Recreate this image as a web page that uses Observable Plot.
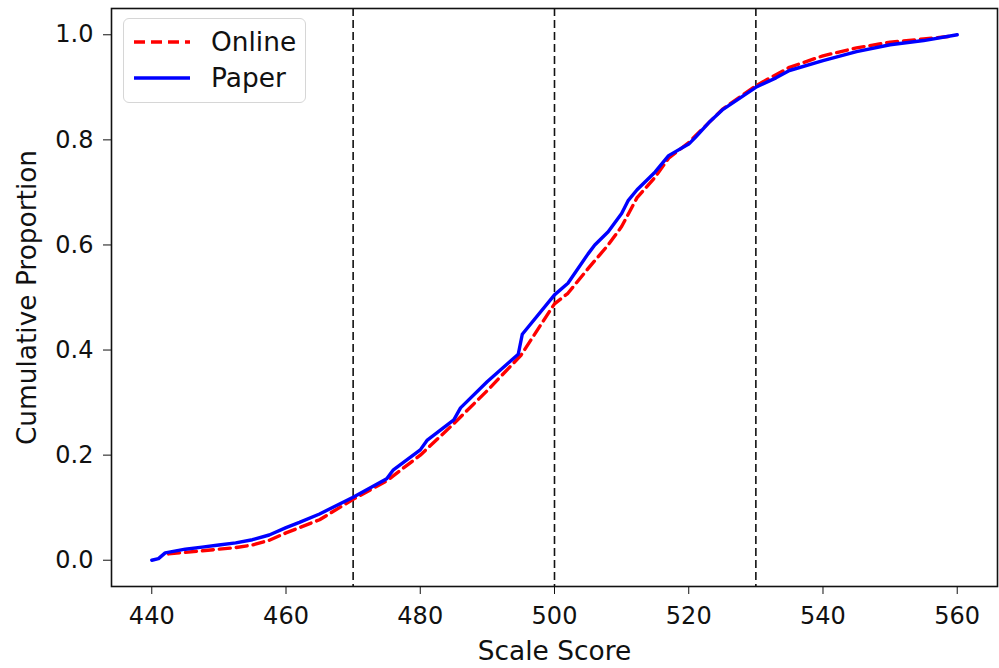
<!DOCTYPE html>
<html>
<head>
<meta charset="utf-8">
<script src="https://cdn.jsdelivr.net/npm/d3@7"></script>
<script src="https://cdn.jsdelivr.net/npm/@observablehq/plot@0.6"></script>
<style>
  body { margin: 0; background: #fff; }
  #wrap { position: relative; width: 999px; height: 668px; font-family: "DejaVu Sans", sans-serif; }
  #legend { position: absolute; left: 123px; top: 18px; width: 183px; height: 85px; box-sizing: border-box;
    border: 1.5px solid #d6d6d6; border-radius: 6px; background: rgba(255,255,255,0.8); }
  .row { position: absolute; left: 0; display: flex; align-items: center; font-size: 26.4px; color: #111; line-height: 30px; }
  .row svg { margin-left: 10px; margin-right: 21px; }
</style>
</head>
<body>
<div id="wrap"></div>
<script>
const paperScore = [440, 441, 442, 445, 447.5, 450, 452.5, 455, 457.5, 460, 462, 465, 470, 475, 476, 480, 481, 485, 486, 490, 494.6, 495.2, 500, 502, 505, 506, 508, 510, 511, 512.3, 515, 517, 520, 521, 523, 525, 530, 533, 535, 540, 545, 550, 555, 560];
const paperProp  = [0.0, 0.003, 0.014, 0.021, 0.025, 0.029, 0.033, 0.039, 0.048, 0.062, 0.072, 0.088, 0.12, 0.155, 0.172, 0.21, 0.228, 0.267, 0.29, 0.34, 0.392, 0.43, 0.505, 0.527, 0.583, 0.6, 0.625, 0.66, 0.685, 0.705, 0.739, 0.77, 0.792, 0.805, 0.833, 0.857, 0.9, 0.918, 0.932, 0.951, 0.968, 0.981, 0.989, 1.0];
const onlineScore = [442.5, 445, 447.5, 450, 452.5, 455, 457.5, 460, 465, 470, 475, 480, 485, 490, 495, 500, 502, 505, 508, 510, 512.3, 515, 517, 520, 525, 530, 533, 535, 540, 545, 550, 555, 559];
const onlineProp  = [0.012, 0.015, 0.018, 0.021, 0.024, 0.029, 0.038, 0.052, 0.077, 0.116, 0.151, 0.2, 0.26, 0.323, 0.39, 0.488, 0.508, 0.555, 0.6, 0.635, 0.69, 0.729, 0.765, 0.795, 0.858, 0.903, 0.924, 0.938, 0.96, 0.975, 0.986, 0.992, 0.997];
const cutScores = [470, 500, 530];
const xTicks = [440, 460, 480, 500, 520, 540, 560];
const yTicks = [0.0, 0.2, 0.4, 0.6, 0.8, 1.0];
const xLabel = "Scale Score";
const yLabel = "Cumulative Proportion";
const seriesNames = ["Online", "Paper"];

const paper = paperScore.map((s, i) => ({score: s, prop: paperProp[i]}));
const online = onlineScore.map((s, i) => ({score: s, prop: onlineProp[i]}));

const chart = Plot.plot({
  width: 999,
  height: 668,
  marginLeft: 111,
  marginRight: 2,
  marginTop: 8,
  marginBottom: 82,
  style: {fontFamily: "DejaVu Sans, sans-serif", background: "#fff", color: "#111"},
  x: {domain: [434, 566]},
  y: {domain: [-0.05, 1.05]},
  marks: [
    Plot.ruleX(cutScores, {stroke: "#111", strokeWidth: 1.6, strokeDasharray: "8,4"}),
    Plot.line(online, {x: "score", y: "prop", stroke: "#ff0000", strokeWidth: 3.4, strokeDasharray: "11,6"}),
    Plot.line(paper, {x: "score", y: "prop", stroke: "#0000ff", strokeWidth: 3.4}),
    Plot.frame({stroke: "#111", strokeWidth: 1.6}),
    Plot.axisX({ticks: xTicks, tickSize: 8, tickPadding: 12, fontSize: 24, label: null, tickFormat: d3.format("d")}),
    Plot.axisY({ticks: yTicks, tickSize: 8, tickPadding: 10, fontSize: 24, label: null, tickFormat: d3.format(".1f")}),
    Plot.text([xLabel], {frameAnchor: "bottom", dy: 73, fontSize: 26.4, text: d => d}),
    Plot.text([yLabel], {frameAnchor: "left", dx: -84, rotate: -90, textAnchor: "middle", fontSize: 26.4, text: d => d})
  ]
});
const wrap = document.getElementById("wrap");
wrap.appendChild(chart);

const legend = document.createElement("div");
legend.id = "legend";
legend.innerHTML = `
  <div class="row" style="top:8px"><svg width="56" height="26"><line x1="0" y1="13" x2="56" y2="13" stroke="#ff0000" stroke-width="3.4" stroke-dasharray="11,6"/></svg>${seriesNames[0]}</div>
  <div class="row" style="top:44px"><svg width="56" height="26"><line x1="0" y1="13" x2="56" y2="13" stroke="#0000ff" stroke-width="3.4"/></svg>${seriesNames[1]}</div>`;
wrap.appendChild(legend);
</script>
</body>
</html>
